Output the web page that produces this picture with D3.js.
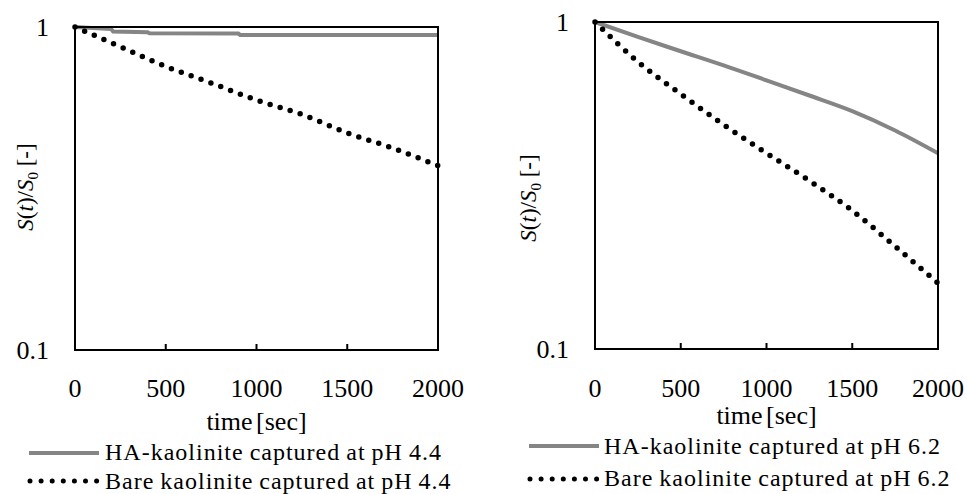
<!DOCTYPE html>
<html>
<head>
<meta charset="utf-8">
<script src="https://cdn.jsdelivr.net/npm/d3@7"></script>
<style>
  body { margin: 0; background: #fff; font-family: "Liberation Serif"; }
</style>
</head>
<body>
<div id="chart"></div>
<script>
// time grid shared by most series (sec)
const timeSec = [0, 250, 500, 750, 1000, 1250, 1500, 1750, 2000];

// pH 4.4 panel
const haTime44 = [0, 200, 210, 400, 410, 900, 910, 2000];
const haPH44 = [1.0, 0.985, 0.968, 0.963, 0.956, 0.954, 0.945, 0.944];
const barePH44 = [1.0, 0.869, 0.755, 0.671, 0.594, 0.536, 0.47, 0.422, 0.372];

// pH 6.2 panel
const haPH62 = [1.0, 0.9, 0.814, 0.737, 0.663, 0.596, 0.534, 0.466, 0.397];
const barePH62 = [1.0, 0.756, 0.602, 0.485, 0.397, 0.327, 0.265, 0.206, 0.159];

const xTicks = [0, 500, 1000, 1500, 2000];
const yTicks = [0.1, 1];
const legend44 = ["HA-kaolinite captured at pH 4.4", "Bare kaolinite captured at pH 4.4"];
const legend62 = ["HA-kaolinite captured at pH 6.2", "Bare kaolinite captured at pH 6.2"];

const FONT = "'Liberation Serif', 'DejaVu Serif', serif";

const svg = d3.select("#chart").append("svg")
  .attr("width", 967)
  .attr("height", 494)
  .style("font-family", FONT);

const panels = [
  {
    left: 75, right: 438, top: 27, bottom: 350,
    ha: haTime44.map((t, i) => [t, haPH44[i]]),
    haCurve: d3.curveLinear,
    bare: timeSec.map((t, i) => [t, barePH44[i]]),
    labels: legend44,
    xTitleY: 430, yTitleX: 33, yTitleY: 187,
    legX: 29, legY: [453, 481], legTextX: 105, legBase: [460, 488.5]
  },
  {
    left: 595, right: 938, top: 22, bottom: 349,
    ha: timeSec.map((t, i) => [t, haPH62[i]]),
    haCurve: d3.curveMonotoneX,
    bare: timeSec.map((t, i) => [t, barePH62[i]]),
    labels: legend62,
    xTitleY: 424, yTitleX: 536, yTitleY: 198,
    legX: 529, legY: [446, 479], legTextX: 604, legBase: [454, 486]
  }
];

panels.forEach(p => {
  const x = d3.scaleLinear().domain([0, 2000]).range([p.left, p.right]);
  const y = d3.scaleLog().domain([0.1, 1]).range([p.bottom, p.top]);
  const g = svg.append("g");

  const haLine = d3.line().x(d => x(d[0])).y(d => y(d[1])).curve(p.haCurve);
  const bareLine = d3.line().x(d => x(d[0])).y(d => y(d[1])).curve(d3.curveMonotoneX);

  // series
  g.append("path")
    .attr("d", haLine(p.ha))
    .attr("fill", "none")
    .attr("stroke", "#858585")
    .attr("stroke-width", 4);

  g.append("path")
    .attr("d", bareLine(p.bare))
    .attr("fill", "none")
    .attr("stroke", "#000")
    .attr("stroke-width", 5.5)
    .attr("stroke-linecap", "round")
    .attr("stroke-dasharray", "0 10.5");

  // frame
  g.append("rect")
    .attr("x", p.left).attr("y", p.top)
    .attr("width", p.right - p.left).attr("height", p.bottom - p.top)
    .attr("fill", "none")
    .attr("stroke", "#000")
    .attr("stroke-width", 2);

  // inner ticks on x
  g.selectAll(".xt")
    .data(xTicks.slice(1, -1))
    .enter().append("line")
    .attr("x1", d => x(d)).attr("x2", d => x(d))
    .attr("y1", p.bottom).attr("y2", p.bottom - 6)
    .attr("stroke", "#000")
    .attr("stroke-width", 2);

  g.selectAll(".xl")
    .data(xTicks)
    .enter().append("text")
    .style("font-family", FONT)
    .attr("x", d => x(d))
    .attr("y", 397)
    .attr("text-anchor", "middle")
    .attr("font-size", 26)
    .text(d => d);

  g.selectAll(".yl")
    .data(yTicks)
    .enter().append("text")
    .style("font-family", FONT)
    .attr("x", p.left - 26)
    .attr("y", d => y(d) + 9)
    .attr("text-anchor", "end")
    .attr("font-size", 26)
    .text(d => d);

  g.append("text")
    .style("font-family", FONT)
    .attr("x", (p.left + p.right) / 2)
    .attr("y", p.xTitleY)
    .attr("text-anchor", "middle")
    .attr("font-size", 26)
    .attr("word-spacing", -3)
    .text("time [sec]");

  const yt = g.append("text")
    .style("font-family", FONT)
    .attr("transform", `translate(${p.yTitleX},${p.yTitleY}) rotate(-90)`)
    .attr("text-anchor", "middle")
    .attr("font-size", 23);
  yt.append("tspan").attr("font-style", "italic").text("S");
  yt.append("tspan").text("(");
  yt.append("tspan").attr("font-style", "italic").text("t");
  yt.append("tspan").text(")/");
  yt.append("tspan").attr("font-style", "italic").text("S");
  yt.append("tspan").attr("font-size", 15).attr("dy", 5).text("0");
  yt.append("tspan").attr("dy", -5).text(" [-]");

  // legend
  g.append("line")
    .attr("x1", p.legX).attr("x2", p.legX + 70)
    .attr("y1", p.legY[0]).attr("y2", p.legY[0])
    .attr("stroke", "#858585")
    .attr("stroke-width", 4);

  g.append("line")
    .attr("x1", p.legX + 1).attr("x2", p.legX + 68)
    .attr("y1", p.legY[1]).attr("y2", p.legY[1])
    .attr("stroke", "#000")
    .attr("stroke-width", 5)
    .attr("stroke-linecap", "round")
    .attr("stroke-dasharray", "0 11.1");

  g.selectAll(".lg")
    .data(p.labels)
    .enter().append("text")
    .style("font-family", FONT)
    .attr("x", p.legTextX)
    .attr("y", (d, i) => p.legBase[i])
    .attr("font-size", 24)
    .attr("letter-spacing", 1)
    .attr("word-spacing", -1)
    .text(d => d);
});
</script>
</body>
</html>
